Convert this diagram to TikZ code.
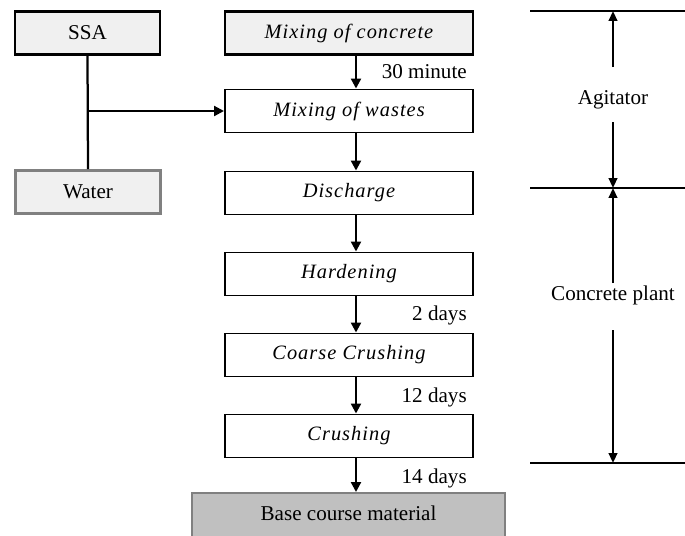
\documentclass[tikz,border=0pt]{standalone}
\usepackage{fontspec}
\setmainfont{Liberation Serif}
\usetikzlibrary{arrows.meta}

\definecolor{boxgray}{HTML}{F0F0F0}
\definecolor{basegray}{HTML}{C0C0C0}
\definecolor{edgegray}{HTML}{808080}

\begin{document}
\begin{tikzpicture}[
    x=0.025cm, y=-0.025cm,
    font=\fontsize{15}{17}\selectfont,
    stepbox/.style={draw=black, line width=1.4pt, fill=white, minimum width=6.2cm,
      minimum height=1.075cm, inner sep=0pt,
      font=\fontsize{14.5}{17}\selectfont\itshape\addfontfeature{LetterSpace=5}},
    inbox/.style={draw=black, line width=2pt, fill=boxgray, minimum width=3.625cm,
      minimum height=1.075cm, inner sep=0pt},
    flow/.style={line width=1.6pt, -{Triangle[length=7pt, width=7pt]}},
    span/.style={line width=1.6pt, -{Triangle[length=7pt, width=6pt]}},
    rule/.style={line width=1.8pt},
    timelabel/.style={anchor=east, inner sep=0pt}
  ]

    \clip (0,0) rectangle (685,535);

    % Inputs
    \node[inbox] (ssa) at (87.5,33) {SSA};
    \node[inbox, draw=edgegray] (water) at (88,192) {Water};

    % Process steps
    \node[stepbox, fill=boxgray, line width=2pt] (mixc) at (349,33) {Mixing of concrete};
    \node[stepbox] (mixw) at (349,111) {Mixing of wastes};
    \node[stepbox] (disc) at (349,193) {Discharge};
    \node[stepbox] (hard) at (349,274) {Hardening};
    \node[stepbox] (coarse) at (349,355) {Coarse Crushing};
    \node[stepbox] (crush) at (349,436) {Crushing};
    \node[draw=edgegray, line width=1.6pt, fill=basegray, minimum width=7.825cm,
      minimum height=1.5cm, inner sep=0pt, anchor=north] (base) at (348.5,492) {};
    \node (basetext) at (348.5,513) {Base course material};

    % Connectors
    \coordinate (ax) at (356,0);
    \coordinate (j) at (ssa.south |- mixw.west);
    \draw[line width=1.6pt] (ssa.south) -- (water.north);
    \draw[flow] (j) -- (mixw.west);
    \draw[flow] (mixc.south -| ax) -- (mixw.north -| ax);
    \draw[flow] (mixw.south -| ax) -- (disc.north -| ax);
    \draw[flow] (disc.south -| ax) -- (hard.north -| ax);
    \draw[flow] (hard.south -| ax) -- (coarse.north -| ax);
    \draw[flow] (coarse.south -| ax) -- (crush.north -| ax);
    \draw[flow] (crush.south -| ax) -- (base.north -| ax);

    % Times
    \node[timelabel] (t30) at (467,72) {30 minute};
    \node[timelabel] (t2) at (467,315) {2 days};
    \node[timelabel] (t12) at (467,397) {12 days};
    \node[timelabel] (t14) at (467,478) {14 days};

    % Equipment ranges
    \coordinate (r1a) at (530,11);
    \coordinate (r1b) at (685,11);
    \coordinate (r2a) at (530,188);
    \coordinate (r2b) at (685,188);
    \coordinate (r3a) at (530,463);
    \coordinate (r3b) at (685,463);
    \draw[rule] (r1a) -- (r1b);
    \draw[rule] (r2a) -- (r2b);
    \draw[rule] (r3a) -- (r3b);

    \node (agit) at (613,100) {Agitator};
    \node (plant) at (613,295) {Concrete plant};
    \coordinate (ag1) at (613,67);
    \coordinate (ag2) at (613,122);
    \coordinate (pl1) at (613,283);
    \coordinate (pl2) at (613,330);
    \draw[span] (ag1) -- (r1a -| ag1);
    \draw[span] (ag2) -- (r2a -| ag2);
    \draw[span] (pl1) -- (r2a -| pl1);
    \draw[span] (pl2) -- (r3a -| pl2);

  \end{tikzpicture}
\end{document}
